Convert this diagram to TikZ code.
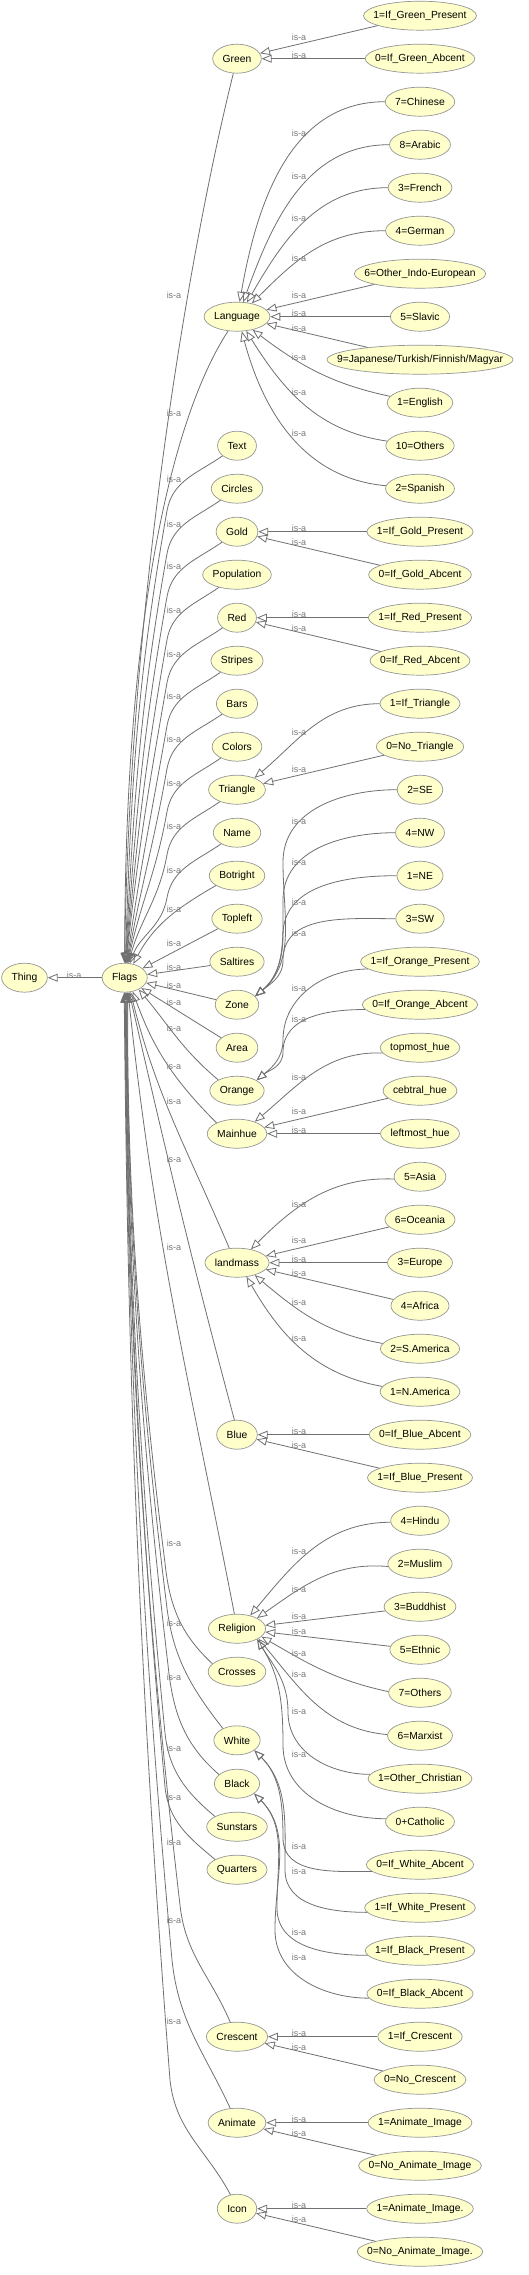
\documentclass[tikz,border=0pt]{standalone}
\usepackage{fontspec}
\setmainfont{Liberation Sans}
\usetikzlibrary{arrows.meta,shapes.geometric}
\definecolor{nodefill}{RGB}{255,255,204}
\definecolor{nodeline}{RGB}{150,150,150}
\definecolor{edgecol}{RGB}{112,112,112}
\definecolor{labcol}{RGB}{120,120,120}
\newlength\nwd
\newcommand\ntxt[1]{\settowidth\nwd{#1}\addtolength\nwd{20pt}\hbox to 0.7071\nwd{\hss#1\hss}}
\tikzset{
  cls/.style={ellipse, draw=nodeline, fill=nodefill, line width=0.7pt, inner sep=0pt,
    minimum height=29pt, font=\fontsize{10.3}{12}\selectfont},
  isa/.style={draw=edgecol, line width=0.8pt, -{Triangle[open,length=10pt,width=8pt]}},
  lab/.style={font=\fontsize{9}{10}\selectfont, text=labcol, inner sep=0pt},
}
\begin{document}
\begin{tikzpicture}[x=1pt,y=-1pt]
\path[use as bounding box, fill=white] (0,0) rectangle (528,2275);
% root
\node[cls] (Thing) at (24.5,977.7) {\ntxt{Thing}};
\node[cls] (Flags) at (124.7,977.7) {\ntxt{Flags}};
% column 2
\foreach \n/\t/\y in {Green/Green/58.7, Language/Language/316.7, Text/Text/445.7,
  Circles/Circles/488.7, Gold/Gold/531.7, Population/Population/574.7, Red/Red/617.7,
  Stripes/Stripes/660.7, Bars/Bars/703.7, Colors/Colors/746.7, Triangle/Triangle/789.7,
  Name/Name/832.7, Botright/Botright/875.7, Topleft/Topleft/918.7, Saltires/Saltires/961.7,
  Zone/Zone/1004.7, Area/Area/1047.7, Orange/Orange/1090.7, Mainhue/Mainhue/1133.7,
  landmass/landmass/1262.7, Blue/Blue/1434.7, Religion/Religion/1628.7, Crosses/Crosses/1671.7,
  White/White/1740.3, Black/Black/1783.7, Sunstars/Sunstars/1826.7, Quarters/Quarters/1869.7,
  Crescent/Crescent/2036.7, Animate/Animate/2122.7, Icon/Icon/2208.7}
  {\node[cls] (\n) at (237,\y) {\ntxt{\t}};}
% column 3
\foreach \n/\t/\y in {gp/1=If\_Green\_Present/15.7, ga/0=If\_Green\_Abcent/58.7,
  l7/7=Chinese/101.7, l8/8=Arabic/144.7, l3/3=French/187.7, l4/4=German/230.7,
  l6/6=Other\_Indo-European/273.7, l5/5=Slavic/316.7, l9/9=Japanese\slash Turkish\slash Finnish\slash Magyar/359.7,
  l1/1=English/402.7, l10/10=Others/445.7, l2/2=Spanish/488.7,
  gop/1=If\_Gold\_Present/531.7, goa/0=If\_Gold\_Abcent/574.7,
  rp/1=If\_Red\_Present/617.7, ra/0=If\_Red\_Abcent/660.7,
  tp/1=If\_Triangle/703.7, tn/0=No\_Triangle/746.7,
  z2/2=SE/789.7, z4/4=NW/832.7, z1/1=NE/875.7, z3/3=SW/918.7,
  op/1=If\_Orange\_Present/961.7, oa/0=If\_Orange\_Abcent/1004.7,
  mt/topmost\_hue/1047.7, mc/cebtral\_hue/1090.7, ml/leftmost\_hue/1133.7,
  m5/5=Asia/1176.7, m6/6=Oceania/1219.7, m3/3=Europe/1262.7, m4/4=Africa/1305.7,
  m2/2=S.America/1348.7, m1/1=N.America/1391.7,
  ba/0=If\_Blue\_Abcent/1434.7, bp/1=If\_Blue\_Present/1477.7,
  r4/4=Hindu/1520.7, r2/2=Muslim/1563.7, r3/3=Buddhist/1606.7, r5/5=Ethnic/1649.7,
  r7/7=Others/1692.7, r6/6=Marxist/1735.7, r1/1=Other\_Christian/1778.7, r0/0+Catholic/1821.7,
  wa/0=If\_White\_Abcent/1864.7, wp/1=If\_White\_Present/1907.7,
  kp/1=If\_Black\_Present/1950.7, ka/0=If\_Black\_Abcent/1993.7,
  cp/1=If\_Crescent/2036.7, cn/0=No\_Crescent/2079.7,
  ap/1=Animate\_Image/2122.7, an/0=No\_Animate\_Image/2165.7,
  ia/1=Animate\_Image./2208.7, ib/0=No\_Animate\_Image./2251.7}
  {\node[cls] (\n) at (420,\y) {\ntxt{\t}};}
% Flags -> Thing
\draw[isa] (Flags) -- (Thing);
% column 2 -> Flags (upper)
\draw[isa] (Green.256) to[out=256,in=89,out distance=150pt,in distance=400pt] (Flags.91);
\draw[isa] (Language.238) to[out=237,in=90,out distance=110pt,in distance=330pt] (Flags.90);
\foreach \n/\y/\a in {Text/445.7/88, Circles/488.7/87, Gold/531.7/86, Population/574.7/85,
  Red/617.7/84, Stripes/660.7/82, Bars/703.7/80, Colors/746.7/78, Triangle/789.7/75, Name/832.7/70}
  {\draw[isa] (\n.215) to[out=215,in=80] (167,\y+65) to[out=260,in=\a] (Flags.\a);}
\draw[isa] (Botright.205) to[out=210,in=62] (Flags.58);
\draw[isa] (Topleft) -- (Flags);
\draw[isa] (Saltires) -- (Flags);
% column 2 -> Flags (lower)
\draw[isa] (Zone) -- (Flags);
\draw[isa] (Area) -- (Flags);
\draw[isa] (Orange.150) to[out=140,in=-50] (Flags.-40);
\draw[isa] (Mainhue.152) to[out=135,in=-70] (Flags.-60);
\draw[isa] (landmass.118) to[out=113,in=-76] (Flags.-68);
\draw[isa] (Blue.100) to[out=105,in=-77] (Flags.-73);
\draw[isa] (Religion.100) to[out=101,in=-84] (Flags.-77);
\foreach \n/\s/\o/\px/\py/\a in {Crosses/162/137/165/1563/-78, White/140/128/166/1600/-80,
  Black/153/139/168/1665/-82, Sunstars/155/140/165/1733/-84, Quarters/155/140/165/1787/-86,
  Crescent/115/113/180/1905/-88, Animate/115/115/172/1960/-90, Icon/115/118/170/2080/-92}
  {\draw[isa] (\n.\s) to[out=\o,in=-84] (\px,\py)
     .. controls (133,{\py-0.44*(\py-992)}) and (127,{992+0.26*(\py-992)}) .. (Flags.\a);}
% column 3 -> column 2
\draw[isa] (gp) -- (Green);
\draw[isa] (ga) -- (Green);
\draw[isa] (l7) to[out=180,in=80] (Language.80);
\draw[isa] (l8) to[out=180,in=70] (Language.67);
\draw[isa] (l3) to[out=180,in=60] (Language.55);
\draw[isa] (l4) to[out=180,in=45] (Language.42);
\draw[isa] (l6) -- (Language);
\draw[isa] (l5) -- (Language);
\draw[isa] (l9) -- (Language);
\draw[isa] (l1) to[out=168,in=-37] (Language.-40);
\draw[isa] (l10) to[out=172,in=-58] (Language.-57);
\draw[isa] (l2) to[out=175,in=-75] (Language.-72);
\draw[isa] (gop) -- (Gold);
\draw[isa] (goa) -- (Gold);
\draw[isa] (rp) -- (Red);
\draw[isa] (ra) -- (Red);
\draw[isa] (tp) to[out=180,in=40] (Triangle.34);
\draw[isa] (tn) -- (Triangle);
\draw[isa] (z2) to[out=180,in=90] (283,862) to[out=-90,in=40] (Zone.25);
\draw[isa] (z4) to[out=180,in=90] (283,900) to[out=-90,in=40] (Zone.25);
\draw[isa] (z1) to[out=180,in=90] (283,935) to[out=-90,in=40] (Zone.25);
\draw[isa] (z3) to[out=180,in=90] (283,960) to[out=-90,in=40] (Zone.25);
\draw[isa] (op.188) to[out=180,in=90] (283,1040) to[out=-90,in=40] (Orange.28);
\draw[isa] (oa.185) to[out=180,in=90] (283,1052) to[out=-90,in=40] (Orange.28);
\draw[isa] (mt.188) to[out=178,in=40] (Mainhue.34);
\draw[isa] (mc) -- (Mainhue);
\draw[isa] (ml) -- (Mainhue);
\draw[isa] (m5.185) to[out=178,in=45] (landmass.44);
\draw[isa] (m6) -- (landmass);
\draw[isa] (m3) -- (landmass);
\draw[isa] (m4) -- (landmass);
\draw[isa] (m2.172) to[out=170,in=-40] (landmass.-35);
\draw[isa] (m1.172) to[out=170,in=-60] (landmass.-56);
\draw[isa] (ba) -- (Blue);
\draw[isa] (bp) -- (Blue);
\draw[isa] (r4.183) to[out=180,in=50] (Religion.45);
\draw[isa] (r2.185) to[out=175,in=35] (Religion.28);
\draw[isa] (r3) -- (Religion);
\draw[isa] (r5) -- (Religion);
\draw[isa] (r7.178) to[out=168,in=-30] (Religion.-18);
\draw[isa] (r6.178) to[out=175,in=-50] (Religion.-25);
\draw[isa] (r1.175) to[out=180,in=-90] (288,1712) to[out=90,in=-58] (Religion.-28);
\draw[isa] (r0.175) to[out=180,in=-90] (283,1745) to[out=90,in=-58] (Religion.-28);
\draw[isa] (wa.188) to[out=180,in=-90] (283,1838) to[out=90,in=-45] (White.-30);
\draw[isa] (wp.185) to[out=180,in=-90] (285,1870) to[out=90,in=-45] (White.-30);
\draw[isa] (kp.185) to[out=180,in=-90] (277,1908) to[out=90,in=-45] (Black.-30);
\draw[isa] (ka.185) to[out=180,in=-90] (275,1930) to[out=90,in=-45] (Black.-30);
\draw[isa] (cp) -- (Crescent);
\draw[isa] (cn) -- (Crescent);
\draw[isa] (ap) -- (Animate);
\draw[isa] (an) -- (Animate);
\draw[isa] (ia) -- (Icon);
\draw[isa] (ib) -- (Icon);
% is-a labels
\node[lab] (lt) at (74.2,975) {is-a};
\foreach \yy [count=\i] in {295.7, 413.7, 479.7, 524, 566.7, 610.7, 654, 696.7, 739.7, 783,
  826.7, 870.7, 909.7, 943.7, 967, 985, 1002, 1028.7, 1066.7, 1101.7, 1159.7, 1247.7,
  1543.7, 1623.7, 1677.7, 1748.7, 1797.7, 1842.7, 1920.3, 2021.7}
  {\node[lab] (la\i) at (174,\yy) {is-a};}
\foreach \yy [count=\i] in {37.7, 55.7, 133.7, 176.7, 218.7, 258.7, 295.7, 313.7, 328, 357,
  392.7, 433.7, 528.7, 542.7, 614.7, 628.7, 732.7, 769, 821, 862.7, 902.7, 933.7, 988, 1019,
  1077.7, 1111.7, 1130.7, 1204.7, 1240.7, 1259.3, 1273.7, 1302.7, 1338.7, 1431.7, 1445.7,
  1551.7, 1589.7, 1616.7, 1631.7, 1653.7, 1674.7, 1711.7, 1754.7, 1846.7, 1871.7, 1932.7,
  1957.7, 2033.3, 2047.7, 2119.3, 2133.7, 2205.7, 2219.7}
  {\node[lab] (lb\i) at (299,\yy) {is-a};}
\end{tikzpicture}
\end{document}
